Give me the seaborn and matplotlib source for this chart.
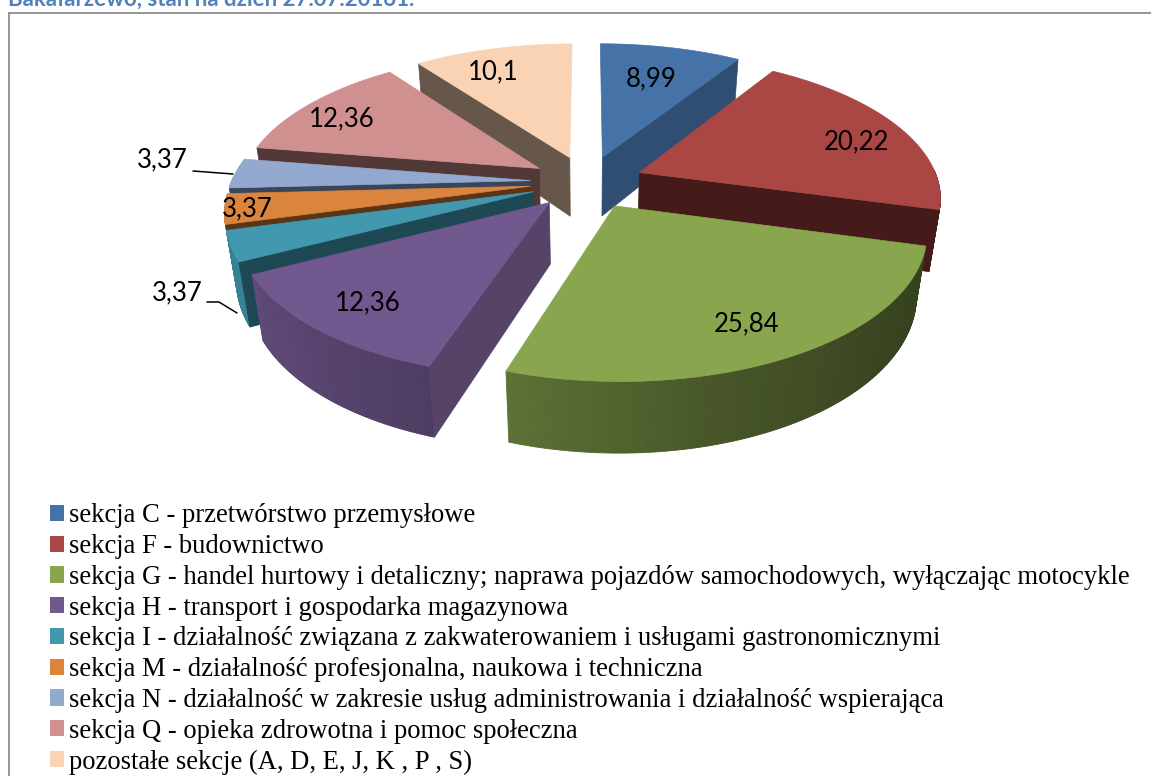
import numpy as np
import matplotlib
matplotlib.use('Agg')
import matplotlib.pyplot as plt
from matplotlib.patches import Patch
import seaborn as sns

sections = [
    'sekcja C - przetwórstwo przemysłowe',
    'sekcja F - budownictwo',
    'sekcja G - handel hurtowy i detaliczny; naprawa pojazdów samochodowych, wyłączając motocykle',
    'sekcja H - transport i gospodarka magazynowa',
    'sekcja I - działalność związana z zakwaterowaniem i usługami gastronomicznymi',
    'sekcja M - działalność profesjonalna, naukowa i techniczna',
    'sekcja N - działalność w zakresie usług administrowania i działalność wspierająca',
    'sekcja Q - opieka zdrowotna i pomoc społeczna',
    'pozostałe sekcje (A, D, E, J, K , P , S)',
]
shares = [8.99, 20.22, 25.84, 12.36, 3.37, 3.37, 3.37, 12.36, 10.1]
value_labels = ['8,99', '20,22', '25,84', '12,36', '3,37', '3,37', '3,37', '12,36', '10,1']

top_colors = ['#4572A7', '#AA4643', '#89A54E', '#71588F', '#4198AF', '#DB843D', '#93A9CF', '#D09090', '#FAD3B4']
side_colors = ['#2F4E72', '#451B19', '#37411F', '#564367', '#1F4855', '#5A3517', '#3B4559', '#533838', '#66574A']

# pozycje etykiet w pikselach
label_xy = [(651, 79), (856, 142), (747, 324), (368, 303), (177, 293), (247, 209), (162, 160), (342, 119), (493, 72)]

# rzut perspektywiczny kola
CX, CY = 587, 182
A, B, K = 299, 139, 0.16
HEIGHT, SHRINK = 62, 0.03
EXPLODE = 0.19

sns.set_theme(style='white')
plt.rcParams['font.family'] = ['Lato', 'DejaVu Sans']

W, H = 1151, 776
fig = plt.figure(figsize=(W / 100, H / 100), dpi=100)
ax = fig.add_axes([0, 0, 1, 1])
ax.set_xlim(0, W)
ax.set_ylim(H, 0)
ax.axis('off')


def project(x, f, z=0.0):
    d = 1 - K * f + SHRINK * z
    return CX + A * x / d, CY + (B * f + HEIGHT * (1 + 0.06 * f) * z) / d


def outer_shade(t):
    return np.interp(t, [110, 130, 165, 200, 245], [0.40, 0.41, 0.52, 0.69, 0.85])


def draw_slice(t1, t2, top, side):
    mid = np.radians((t1 + t2) / 2)
    ox, of = EXPLODE * np.sin(mid), -EXPLODE * np.cos(mid)
    ts = np.linspace(t1, t2, max(int(t2 - t1) * 2, 4))
    xs = ox + np.sin(np.radians(ts))
    fs = of - np.cos(np.radians(ts))

    # sciana zewnetrzna
    rgb = np.array(matplotlib.colors.to_rgb(top))
    for i in range(len(ts) - 1):
        if np.cos(np.radians(ts[i])) > 0.02:
            continue
        p = [project(xs[i], fs[i]), project(xs[i + 1], fs[i + 1]),
             project(xs[i + 1], fs[i + 1], 1), project(xs[i], fs[i], 1)]
        c = rgb * outer_shade((ts[i] + ts[i + 1]) / 2)
        ax.fill(*zip(*p), color=c, lw=0.6, zorder=2)

    # sciany promieniowe
    s1, s2 = np.sin(np.radians(t1)), np.sin(np.radians(t2))
    if -s1 > 1e-6:
        p = [project(ox, of), project(xs[0], fs[0]), project(xs[0], fs[0], 1), project(ox, of, 1)]
        ax.fill(*zip(*p), color=side, lw=0.5, zorder=2)
    if s2 > 1e-6:
        p = [project(ox, of), project(xs[-1], fs[-1]), project(xs[-1], fs[-1], 1), project(ox, of, 1)]
        ax.fill(*zip(*p), color=side, lw=0.5, zorder=2)

    # wierzch
    px, py = project(np.r_[ox, xs], np.r_[of, fs])
    ax.fill(px, py, color=top, lw=0.5, zorder=2)


edges = np.r_[0, np.cumsum(shares)] / sum(shares) * 360
slices = list(zip(edges[:-1], edges[1:], top_colors, side_colors))

# od tylu do przodu
for i in [8, 0, 7, 6, 5, 4, 1, 3, 2]:
    draw_slice(*slices[i])

for (x, y), txt in zip(label_xy, value_labels):
    ax.text(x, y, txt, fontsize=18.5, color='black', ha='center', va='center', zorder=5)

ax.plot([193, 233], [171, 174], color='black', lw=1.1, zorder=4)
ax.plot([207, 219, 237], [302, 302, 313], color='black', lw=1.1, zorder=4)

handles = [Patch(facecolor=c, edgecolor='none') for c in top_colors]
leg = ax.legend(handles, sections, loc='upper left', bbox_to_anchor=(50 / W, 1 - 503.5 / H),
                frameon=False, labelcolor='black', prop={'family': 'Liberation Serif', 'size': 19.2},
                handlelength=0.53, handleheight=0.56, handletextpad=0.2,
                labelspacing=0.215, borderpad=0, borderaxespad=0)

# ramka wykresu
ax.plot([9.5, 9.5], [H, 13], color='#8c8c8c', lw=1.3, zorder=1)
ax.plot([9.5, W], [13, 13], color='#8c8c8c', lw=1.3, zorder=1)

ax.text(8, 6, 'Bakałarzewo, stan na dzień 27.07.20161.', fontsize=16, fontweight='bold',
        color='#4F81BD', ha='left', va='baseline')

fig.savefig('out.png', dpi=100)
